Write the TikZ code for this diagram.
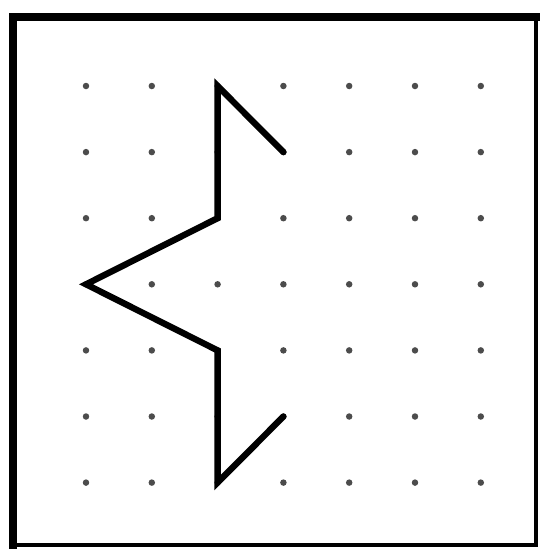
\documentclass[tikz,border=0pt]{standalone}
\usepackage{amsmath, amssymb}

\begin{document}
\begin{tikzpicture}[x=0.02cm, y=-0.02cm,
  dot/.style={circle, fill=black!70, inner sep=0pt, minimum size=0.13cm},
  frameline/.style={line width=#1, line cap=rect},
  starline/.style={line width=3.6pt, line join=miter, line cap=round}]
  \useasboundingbox (0,0) rectangle (543,549);
  % frame
  \coordinate (TL) at (13,17);
  \coordinate (TR) at (536,17);
  \coordinate (BR) at (536,545);
  \coordinate (BL) at (13,545);
  \draw[frameline=1.8pt] (TR) -- (BR) -- (BL);
  \draw[frameline=4.6pt] (BL) -- (TL) -- (TR);
  % dot grid
  \foreach \i in {0,...,6}
    \foreach \j in {0,...,6}
      \node[dot] (d-\i-\j) at ({86+65.8*\i},{86+66.1*\j}) {};
  % the half star
  \draw[starline] (d-3-1.center) -- (d-2-0.center) -- (d-2-2.center)
    -- (d-0-3.center) -- (d-2-4.center) -- (d-2-6.center) -- (d-3-5.center);
\end{tikzpicture}
\end{document}
